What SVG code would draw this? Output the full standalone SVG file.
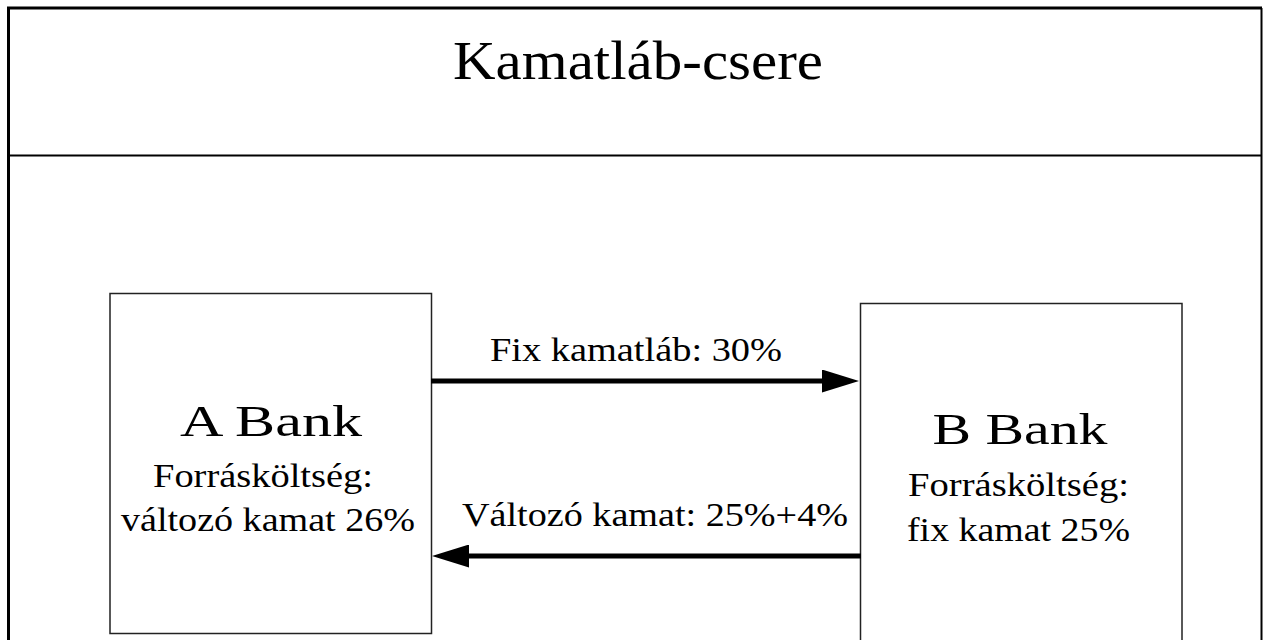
<svg xmlns="http://www.w3.org/2000/svg" width="1263" height="640" viewBox="0 0 1263 640">
  <style>
    text { font-family: "Liberation Serif", "Times New Roman", serif; fill: #000; text-anchor: middle; }
    .title { font-size: 54px; }
    .bank { font-size: 44px; }
    .sub { font-size: 33px; }
    .box { fill: #fff; stroke: #222; stroke-width: 1.5; }
    .flow { stroke: #000; stroke-width: 5; fill: none; marker-end: url(#head); }
    .frame { stroke: #000; fill: none; }
  </style>
  <defs>
    <marker id="head" markerUnits="userSpaceOnUse" markerWidth="37" markerHeight="23" refX="7" refY="11.5" orient="auto">
      <path d="M0,0 L37,11.5 L0,23 Z" fill="#000"/>
    </marker>
  </defs>
  <rect x="0" y="0" width="1263" height="640" fill="#fff"/>
  <g id="frame">
    <line class="frame" x1="7" y1="8" x2="1262" y2="8" stroke-width="3"/>
    <line class="frame" x1="8.5" y1="7" x2="8.5" y2="640" stroke-width="3"/>
    <line class="frame" x1="1261.5" y1="8" x2="1261.5" y2="640" stroke-width="2"/>
    <line class="frame" x1="9" y1="155.5" x2="1262" y2="155.5" stroke-width="1.8"/>
    <text class="title" x="638" y="79" textLength="370" lengthAdjust="spacingAndGlyphs">Kamatláb-csere</text>
  </g>
  <g id="bankA">
    <rect class="box" x="110" y="293.5" width="321.5" height="340"/>
    <text class="bank" x="271" y="436" textLength="182" lengthAdjust="spacingAndGlyphs">A Bank</text>
    <text class="sub" x="263" y="487" textLength="220" lengthAdjust="spacingAndGlyphs">Forrásköltség:</text>
    <text class="sub" x="268" y="531" textLength="294" lengthAdjust="spacingAndGlyphs">változó kamat 26%</text>
  </g>
  <g id="bankB">
    <rect class="box" x="860.5" y="303.5" width="321.5" height="360"/>
    <text class="bank" x="1020" y="444" textLength="175" lengthAdjust="spacingAndGlyphs">B Bank</text>
    <text class="sub" x="1018.5" y="496" textLength="221" lengthAdjust="spacingAndGlyphs">Forrásköltség:</text>
    <text class="sub" x="1018.5" y="541" textLength="223" lengthAdjust="spacingAndGlyphs">fix kamat 25%</text>
  </g>
  <g id="connectors">
    <line class="flow" x1="431" y1="381" x2="829" y2="381"/>
    <text class="sub" x="636" y="361" textLength="292" lengthAdjust="spacingAndGlyphs">Fix kamatláb: 30%</text>
    <line class="flow" x1="861" y1="556" x2="462" y2="556"/>
    <text class="sub" x="655" y="526" textLength="386" lengthAdjust="spacingAndGlyphs">Változó kamat: 25%+4%</text>
  </g>
</svg>
